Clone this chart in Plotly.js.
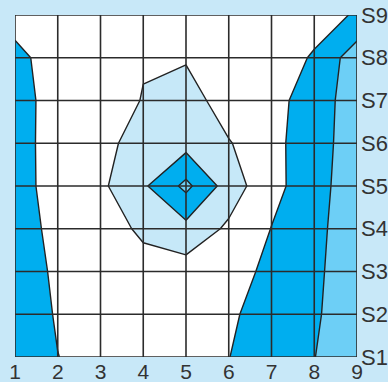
<!DOCTYPE html>
<html>
<head>
<meta charset="utf-8">
<script src="https://cdn.plot.ly/plotly-3.0.1.min.js"></script>
<style>html,body{margin:0;padding:0;background:#c8e8f8;}#chart{width:388px;height:382px;}</style>
</head>
<body>
<div id="chart"></div>
<script>
// x categories (columns) and series labels (rows)
var xValues = [1, 2, 3, 4, 5, 6, 7, 8, 9];
var seriesPos = [1, 2, 3, 4, 5, 6, 7, 8, 9];
var seriesLabels = ['S1', 'S2', 'S3', 'S4', 'S5', 'S6', 'S7', 'S8', 'S9'];

// surface values, one array per series (S1 .. S9)
var S1 = [-1.95, -1.02, -0.5, -0.5, -0.5, -0.98, -1.65, -1.98, -2.7];
var S2 = [-1.95, -0.87, -0.6, -0.5, -0.5, -0.8, -1.57, -1.85, -2.73];
var S3 = [-1.9, -0.72, -0.6, -0.41, -0.44, -0.5, -1.29, -1.8, -2.63];
var S4 = [-1.73, -0.55, -0.54, 0.2, 0.69, -0.17, -1.02, -1.7, -2.67];
var S5 = [-1.48, -0.5, -0.19, 0.85, 2.25, 0.54, -0.74, -1.5, -2.78];
var S6 = [-1.46, -0.5, -0.29, 0.4, 0.65, 0.07, -0.75, -1.5, -2.61];
var S7 = [-1.48, -0.5, -0.58, 0.05, 0.5, -0.54, -0.65, -1.5, -2.52];
var S8 = [-1.28, -0.52, -0.5, -0.08, -0.1, -0.4, -0.74, -1.05, -2.61];
var S9 = [-0.6, -0.5, -0.5, -0.5, -0.4, -0.5, -0.5, -0.8, -1.05];

var zRows = [S1, S2, S3, S4, S5, S6, S7, S8, S9];

var gridColor = '#2b2b2b';
var xFont = {family: 'Liberation Sans, Arial, sans-serif', size: 21, color: '#333333'};
var yFont = {family: 'Liberation Sans, Arial, sans-serif', size: 22, color: '#333333'};

var trace = {
  type: 'contour',
  x: xValues,
  y: seriesPos,
  z: zRows,
  autocontour: false,
  contours: {start: -2, end: 2, size: 1, coloring: 'fill', showlines: true},
  line: {color: '#222222', width: 1.4, smoothing: 0},
  colorscale: [
    [0, '#6dcff6'],
    [0.2, '#00aeef'],
    [0.4, '#ffffff'],
    [0.6, '#c6e8f8'],
    [0.8, '#00aeef'],
    [1, '#6dcff6']
  ],
  showscale: false,
  hoverinfo: 'skip'
};

// grid lines drawn above the filled contours, placed at the axis categories
var shapes = [];
xValues.forEach(function (xv) {
  shapes.push({type: 'line', layer: 'above', xref: 'x', yref: 'paper', x0: xv, x1: xv, y0: 0, y1: 1,
    line: {color: gridColor, width: 1.6}});
});
seriesPos.forEach(function (yv) {
  shapes.push({type: 'line', layer: 'above', xref: 'paper', yref: 'y', x0: 0, x1: 1, y0: yv, y1: yv,
    line: {color: gridColor, width: 1.6}});
});

var layout = {
  width: 388,
  height: 382,
  margin: {l: 15, r: 31, t: 15, b: 25, pad: 0},
  paper_bgcolor: '#c8e8f8',
  plot_bgcolor: '#ffffff',
  showlegend: false,
  font: xFont,
  xaxis: {
    range: [1, 9],
    tickvals: xValues,
    ticktext: xValues.map(String),
    showgrid: false,
    zeroline: false,
    showline: false,
    ticks: '',
    tickfont: xFont,
    fixedrange: true
  },
  yaxis: {
    range: [1, 9],
    side: 'right',
    tickvals: seriesPos,
    ticktext: seriesLabels,
    showgrid: false,
    zeroline: false,
    showline: false,
    ticks: '',
    tickfont: yFont,
    ticklabelstandoff: 3,
    fixedrange: true
  },
  shapes: shapes
};

Plotly.newPlot('chart', [trace], layout, {displayModeBar: false, staticPlot: true});
</script>
</body>
</html>
